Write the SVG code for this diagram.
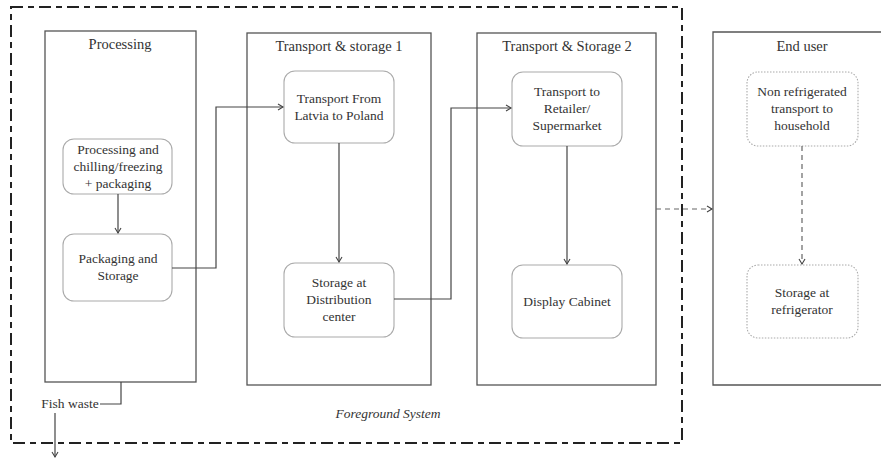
<svg xmlns="http://www.w3.org/2000/svg" width="881" height="461" viewBox="0 0 881 461">
<style>
.box{fill:none;stroke:#555;stroke-width:1.3}
.node{fill:#fff;stroke:#aaa;stroke-width:1.1}
.dot{fill:#fff;stroke:#aaa;stroke-width:1.1;stroke-dasharray:1.5 1.5}
.c{fill:none;stroke:#444;stroke-width:1.2}
.d{fill:none;stroke:#666;stroke-width:1.2;stroke-dasharray:5 4}
</style>
<defs>
<marker id="a" markerWidth="8" markerHeight="8" refX="6" refY="4" orient="auto" markerUnits="userSpaceOnUse">
<path d="M1,1 L6,4 L1,7" fill="none" stroke="#444" stroke-width="1.1"/>
</marker>
</defs>
<rect id="foreground" x="11" y="7" width="671" height="436" fill="none" stroke="#222" stroke-width="2" stroke-dasharray="12 5 6 5"/>
<text x="388" y="418" font-family="Liberation Serif" font-size="13.5" fill="#333" text-anchor="middle" font-style="italic">Foreground System</text>

<g id="processing"><rect class="box" x="45" y="31" width="151" height="351"/><text font-family="Liberation Serif" font-size="14.5" fill="#333" text-anchor="middle" x="120" y="49">Processing</text></g>
<g id="ts1"><rect class="box" x="247" y="33" width="184" height="352"/><text font-family="Liberation Serif" font-size="14.5" fill="#333" text-anchor="middle" x="339" y="51">Transport &amp; storage 1</text></g>
<g id="ts2"><rect class="box" x="477" y="33" width="179" height="352"/><text font-family="Liberation Serif" font-size="14.5" fill="#333" text-anchor="middle" x="567" y="51">Transport &amp; Storage 2</text></g>
<g id="enduser"><path class="box" d="M882,32 H713 V385 H882"/><text font-family="Liberation Serif" font-size="14.5" fill="#333" text-anchor="middle" x="802" y="51">End user</text></g>

<g id="n1" font-family="Liberation Serif" font-size="13.5" fill="#333" text-anchor="middle"><rect class="node" x="63" y="139" width="109" height="55" rx="11"/>
<text font-family="Liberation Serif" x="118" y="154">Processing and</text><text font-family="Liberation Serif" x="118" y="171">chilling/freezing</text><text font-family="Liberation Serif" x="118" y="188">+ packaging</text></g>
<g id="n2" font-family="Liberation Serif" font-size="13.5" fill="#333" text-anchor="middle"><rect class="node" x="63" y="234" width="109" height="67" rx="11"/>
<text font-family="Liberation Serif" x="118" y="263">Packaging and</text><text font-family="Liberation Serif" x="118" y="280">Storage</text></g>
<g id="n3" font-family="Liberation Serif" font-size="13.5" fill="#333" text-anchor="middle"><rect class="node" x="284" y="71" width="110" height="72" rx="11"/>
<text font-family="Liberation Serif" x="339" y="103">Transport From</text><text font-family="Liberation Serif" x="339" y="120">Latvia to Poland</text></g>
<g id="n4" font-family="Liberation Serif" font-size="13.5" fill="#333" text-anchor="middle"><rect class="node" x="284" y="263" width="110" height="74" rx="11"/>
<text font-family="Liberation Serif" x="339" y="287">Storage at</text><text font-family="Liberation Serif" x="339" y="304">Distribution</text><text font-family="Liberation Serif" x="339" y="321">center</text></g>
<g id="n5" font-family="Liberation Serif" font-size="13.5" fill="#333" text-anchor="middle"><rect class="node" x="512" y="72" width="110" height="74" rx="11"/>
<text font-family="Liberation Serif" x="567" y="96">Transport to</text><text font-family="Liberation Serif" x="567" y="113">Retailer/</text><text font-family="Liberation Serif" x="567" y="130">Supermarket</text></g>
<g id="n6" font-family="Liberation Serif" font-size="13.5" fill="#333" text-anchor="middle"><rect class="node" x="512" y="265" width="110" height="73" rx="11"/>
<text font-family="Liberation Serif" x="567" y="306">Display Cabinet</text></g>
<g id="n7" font-family="Liberation Serif" font-size="13.5" fill="#333" text-anchor="middle"><rect class="dot" x="747" y="72" width="111" height="74" rx="11"/>
<text font-family="Liberation Serif" x="802" y="96">Non refrigerated</text><text font-family="Liberation Serif" x="802" y="113">transport to</text><text font-family="Liberation Serif" x="802" y="130">household</text></g>
<g id="n8" font-family="Liberation Serif" font-size="13.5" fill="#333" text-anchor="middle"><rect class="dot" x="747" y="265" width="111" height="73" rx="11"/>
<text font-family="Liberation Serif" x="802" y="297">Storage at</text><text font-family="Liberation Serif" x="802" y="314">refrigerator</text></g>
<g id="fishwaste"><text font-family="Liberation Serif" font-size="13.5" fill="#333" text-anchor="middle" x="70" y="408">Fish waste</text></g>

<g id="connectors">
<path class="c" d="M118,194 V233" marker-end="url(#a)"/>
<path class="c" d="M172,268 H216 V107 H283" marker-end="url(#a)"/>
<path class="c" d="M339,143 V262" marker-end="url(#a)"/>
<path class="c" d="M394,299 H451 V108 H511" marker-end="url(#a)"/>
<path class="c" d="M567,146 V264" marker-end="url(#a)"/>
<path class="d" d="M656,209 H712" marker-end="url(#a)"/>
<path class="d" d="M802,146 V264" marker-end="url(#a)"/>
<path class="c" d="M121,382 V404 H100"/>
<path class="c" d="M55,413 V457" marker-end="url(#a)"/>
</g>
</svg>
